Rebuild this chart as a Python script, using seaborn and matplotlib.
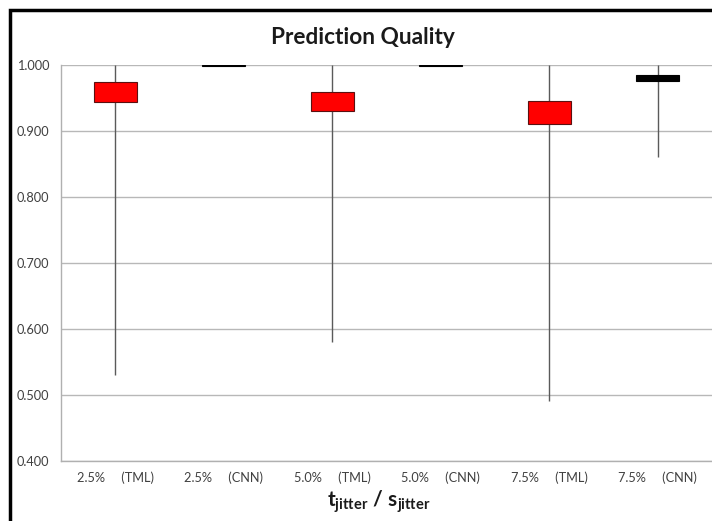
import matplotlib
matplotlib.use("Agg")
import matplotlib.pyplot as plt
import seaborn as sns
import numpy as np
import pandas as pd
from matplotlib.patches import Rectangle

# Per-setting summary of prediction quality (high/low range and box bounds)
categories = ["2.5%     (TML)", "2.5%     (CNN)", "5.0%     (TML)",
              "5.0%     (CNN)", "7.5%     (TML)", "7.5%     (CNN)"]
high = [1.000, 1.000, 1.000, 1.000, 1.000, 1.000]
low = [0.530, 0.999, 0.580, 0.999, 0.490, 0.860]
box_top = [0.974, 1.000, 0.959, 1.000, 0.945, 0.985]
box_bottom = [0.944, 0.999, 0.930, 0.999, 0.910, 0.975]
box_colors = ["#ff0000", "#000000", "#ff0000", "#000000", "#ff0000", "#000000"]
edge_colors = ["#5a1010", "#000000", "#5a1010", "#000000", "#5a1010", "#000000"]
y_ticks = [0.400, 0.500, 0.600, 0.700, 0.800, 0.900, 1.000]

df = pd.DataFrame({"setting": categories, "high": high, "low": low,
                   "top": box_top, "bottom": box_bottom,
                   "color": box_colors, "edge": edge_colors})

sns.set_theme(style="whitegrid")
plt.rcParams["font.family"] = ["Lato", "DejaVu Sans"]
plt.rcParams["mathtext.fontset"] = "custom"
plt.rcParams["mathtext.rm"] = "Lato"
plt.rcParams["mathtext.bf"] = "Lato:bold"
plt.rcParams["mathtext.it"] = "Lato:italic"

fig = plt.figure(figsize=(7.12, 5.21), dpi=100)
ax = fig.add_axes([61 / 712, 1 - 460.7 / 521, 651 / 712, (460.7 - 65) / 521])

x = np.arange(len(df))
# high-low range lines
ax.vlines(x, df["low"], df["high"], color="#5a5a5a", lw=1.0, zorder=2)
# boxes between the box bounds
ax.bar(x, df["top"] - df["bottom"], bottom=df["bottom"], width=0.40,
       color=df["color"], edgecolor=df["edge"], linewidth=0.8, zorder=3)

ax.set_xlim(-0.5, len(df) - 0.5)
ax.set_ylim(0.4, 1.0)
ax.set_yticks(y_ticks)
ax.set_yticklabels([f"{v:.3f}" for v in y_ticks])
ax.set_xticks(x)
ax.set_xticklabels(df["setting"])
ax.tick_params(axis="both", labelsize=9.2, colors="#404040", length=0)
ax.tick_params(axis="y", pad=8.6)
ax.tick_params(axis="x", pad=8)
ax.grid(axis="x", visible=False)
ax.grid(axis="y", color="#b8b8b8", lw=1.0)
for s in ["top", "right"]:
    ax.spines[s].set_visible(False)
ax.spines["left"].set_color("#b0b0b0")
ax.spines["bottom"].set_color("#b0b0b0")
ax.spines["left"].set_linewidth(1.0)
ax.spines["bottom"].set_linewidth(1.0)

fig.text(363 / 712, 1 - 37 / 521, "Prediction Quality", ha="center", va="center",
         fontsize=16.3, fontweight="bold", color="#1a1a1a")
fig.text(379 / 712, 1 - 502 / 521,
         r"$\mathbf{t}_{\mathbf{jitter}}\ \mathbf{/}\ \mathbf{s}_{\mathbf{jitter}}$",
         ha="center", va="center", fontsize=15, color="#1a1a1a")

# chart frame
fig.patches.append(Rectangle((9.5 / 712, -0.1), 1.2, 1 - 9.5 / 521 + 0.1,
                             transform=fig.transFigure, fill=False,
                             edgecolor="black", lw=2.5))

fig.savefig("out.png", dpi=100)
